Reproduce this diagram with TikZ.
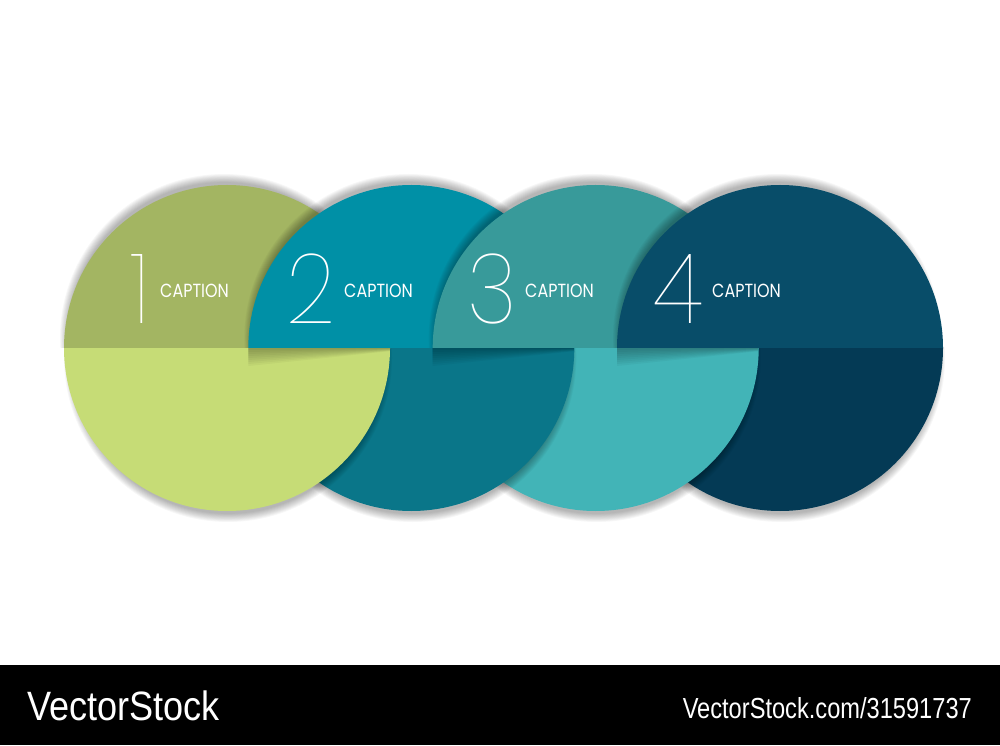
\documentclass[tikz,border=0pt]{standalone}
\usepackage{fontspec}
\newfontfamily\numfont[FakeStretch=0.88]{Poppins Thin}
\newfontfamily\capfont[FakeStretch=0.84]{Poppins}
\newfontfamily\wmfont[FakeStretch=0.88]{Liberation Sans}
\newfontfamily\wmfontb[FakeStretch=0.815]{Liberation Sans}
\definecolor{topA}{HTML}{A3B562}
\definecolor{botA}{HTML}{C6DC76}
\definecolor{topB}{HTML}{0090A6}
\definecolor{botB}{HTML}{0A7689}
\definecolor{topC}{HTML}{389A9A}
\definecolor{botC}{HTML}{42B4B7}
\definecolor{topD}{HTML}{084D69}
\definecolor{botD}{HTML}{043A55}
\tikzset{
  numtext/.style={font=\numfont\fontsize{98}{98}\selectfont, text=white, inner sep=0pt, anchor=base east},
  captext/.style={font=\capfont\fontsize{19}{20}\selectfont, text=white, inner sep=0pt, anchor=base west},
  wmtext/.style={text=white, inner sep=0pt},
  shadowlayer/.style={black, opacity=0.03}
}
\begin{document}
\begin{tikzpicture}[x=1pt,y=1pt]
\useasboundingbox (0,0) rectangle (1000,745);
\fill[white] (0,0) rectangle (1000,745);
\fill[black] (0,0) rectangle (1000,80);
% bottom halves, right to left
\foreach \cx/\col in {780/botD, 595.7/botC, 411.3/botB, 227/botA}{
  \begin{scope}
    \clip (0,80) rectangle (1000,397);
    \foreach \k in {1,...,10}
      \fill[shadowlayer] (\cx+1,387) circle ({155+\k*0.9});
  \end{scope}
  \fill[\col] (\cx-163,397) arc[start angle=180, end angle=360, radius=163] -- cycle;
}
% shadows of the flat edges of top halves on the bottom half to their left
\foreach \cx/\pcx in {411.3/227, 595.7/411.3, 780/595.7}{
  \begin{scope}
    \clip (\pcx-163,397) arc[start angle=180, end angle=360, radius=163] -- cycle;
    \foreach \k in {1,...,9}
      \fill[black, opacity=0.035] (\cx-163,397) -- (\pcx+163,397) -- (\pcx+163,{397-\k*0.35}) -- (\cx-163,{397-\k*2}) -- cycle;
  \end{scope}
}
% top halves, left to right
\foreach \cx/\col in {227/topA, 411.3/topB, 595.7/topC, 780/topD}{
  \begin{scope}
    \clip (0,397) rectangle (1000,745);
    \foreach \k in {1,...,10}
      \fill[shadowlayer] (\cx-3,407) circle ({155+\k*0.9});
  \end{scope}
  \fill[\col] (\cx-163,397) arc[start angle=180, end angle=0, radius=163] -- cycle;
}
% labels
\node[numtext] (n1) at (150,421) {1};
\node[captext] (c1) at (160,447) {CAPTION};
\node[numtext] (n2) at (336,421) {2};
\node[captext] (c2) at (344,447) {CAPTION};
\node[numtext] (n3) at (517,421) {3};
\node[captext] (c3) at (525,447) {CAPTION};
\node[numtext] (n4) at (703,421) {4};
\node[captext] (c4) at (712,447) {CAPTION};
% watermark
\node[wmtext, font=\wmfont\fontsize{41}{41}\selectfont, anchor=base west] (wm1) at (27,25) {VectorStock};
\node[wmtext, font=\wmfontb\fontsize{29}{29}\selectfont, anchor=base east] (wm2) at (972,27) {VectorStock.com/31591737};
\end{tikzpicture}
\end{document}
